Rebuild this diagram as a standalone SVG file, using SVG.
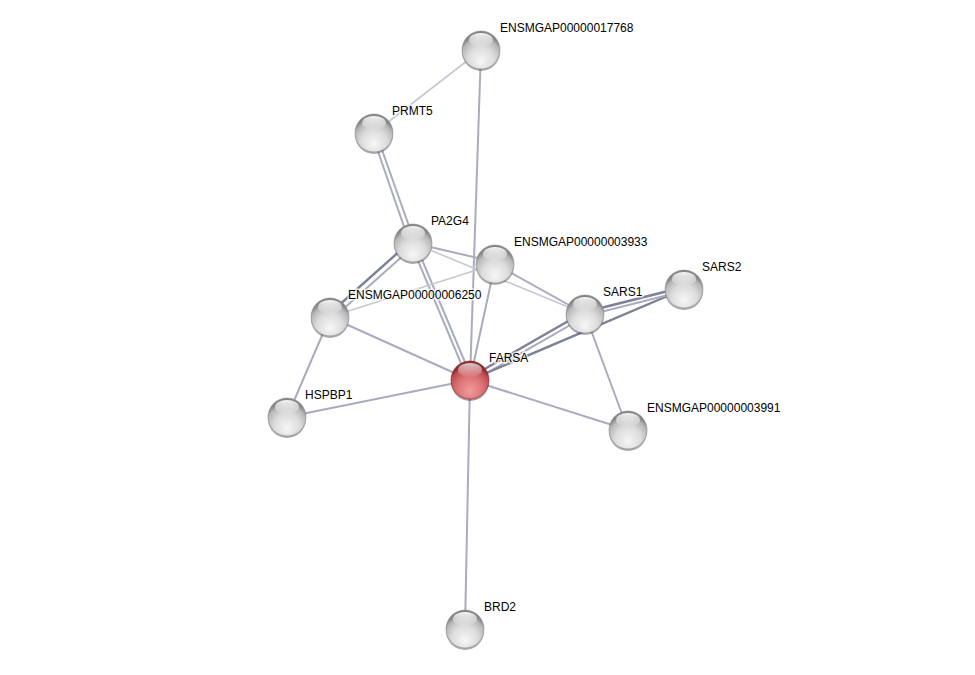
<svg xmlns="http://www.w3.org/2000/svg" width="975" height="675" viewBox="0 0 975 675">
<defs>
<radialGradient id="gw" cx="0.5" cy="0.72" r="0.62" fx="0.5" fy="0.8">
<stop offset="0" stop-color="#f7f7f7"/>
<stop offset="0.55" stop-color="#dcdcdc"/>
<stop offset="0.85" stop-color="#b8b8b8"/>
<stop offset="1" stop-color="#858585"/>
</radialGradient>
<radialGradient id="gr" cx="0.5" cy="0.72" r="0.62" fx="0.5" fy="0.8">
<stop offset="0" stop-color="#f29a9c"/>
<stop offset="0.55" stop-color="#dc7376"/>
<stop offset="0.85" stop-color="#c24e52"/>
<stop offset="1" stop-color="#8c2a2e"/>
</radialGradient>
<linearGradient id="hl" x1="0" y1="0" x2="0" y2="1">
<stop offset="0" stop-color="#ffffff" stop-opacity="0.95"/>
<stop offset="1" stop-color="#ffffff" stop-opacity="0.05"/>
</linearGradient>
<g id="sw">
<ellipse cx="0" cy="2" rx="19" ry="19" fill="#444" opacity="0.45"/>
<circle r="19" fill="url(#gw)" stroke="#8f8f8f" stroke-width="0.6"/>
<ellipse cx="0" cy="-10" rx="12" ry="7" fill="url(#hl)"/>
</g>
<g id="sr">
<ellipse cx="0" cy="2" rx="19" ry="19" fill="#5a1a1c" opacity="0.45"/>
<circle r="19" fill="url(#gr)" stroke="#8c2a2e" stroke-width="0.6"/>
<ellipse cx="0" cy="-10" rx="12" ry="7" fill="url(#hl)" opacity="0.8"/>
</g>
</defs>
<style>
.e{stroke:#a9acbf;stroke-width:2;fill:none}
.el{stroke:#c6c8d3;stroke-width:1.6;fill:none}
.ed{stroke:#7c8099;stroke-width:2.4;fill:none}
.t{font-family:"Liberation Sans",Arial,sans-serif;font-size:12px;fill:#000;stroke:#fff;stroke-width:3;stroke-opacity:0.7;paint-order:stroke}
</style>
<rect width="975" height="675" fill="#fff"/>
<g id="edges">
<line class="el" x1="481" y1="50" x2="374" y2="133"/>
<line class="e" x1="481" y1="50" x2="470" y2="380"/>
<line class="e" x1="372" y1="134" x2="410" y2="244"/>
<line class="e" x1="376" y1="133" x2="415" y2="243"/>
<line class="e" x1="411" y1="244" x2="468" y2="380"/>
<line class="e" x1="415" y1="243" x2="472" y2="379"/>
<line class="ed" x1="411" y1="241" x2="328" y2="315"/>
<line class="e" x1="415" y1="245" x2="332" y2="319"/>
<line class="e" x1="413" y1="243" x2="495" y2="262"/>
<line class="el" x1="413" y1="243" x2="585" y2="314"/>
<line class="el" x1="495" y1="264" x2="330" y2="317"/>
<line class="e" x1="495" y1="264" x2="585" y2="314"/>
<line class="e" x1="495" y1="264" x2="470" y2="380"/>
<line class="e" x1="330" y1="317" x2="470" y2="380"/>
<line class="e" x1="330" y1="317" x2="287" y2="417"/>
<line class="e" x1="287" y1="417" x2="470" y2="380"/>
<line class="ed" x1="469" y1="378" x2="584" y2="312"/>
<line class="e" x1="471" y1="382" x2="586" y2="316"/>
<line class="ed" x1="470" y1="380" x2="684" y2="289"/>
<line class="ed" x1="585" y1="312" x2="684" y2="287"/>
<line class="e" x1="585" y1="316" x2="684" y2="291"/>
<line class="e" x1="585" y1="314" x2="628" y2="430"/>
<line class="e" x1="470" y1="380" x2="628" y2="430"/>
<line class="e" x1="470" y1="380" x2="465" y2="629"/>
</g>
<g id="n17768"><use href="#sw" x="481" y="50"/><text class="t" x="500" y="32">ENSMGAP00000017768</text></g>
<g id="nPRMT5"><use href="#sw" x="374" y="133"/><text class="t" x="392" y="115">PRMT5</text></g>
<g id="nPA2G4"><use href="#sw" x="413" y="243"/><text class="t" x="431" y="225">PA2G4</text></g>
<g id="n3933"><use href="#sw" x="495" y="264"/><text class="t" x="514" y="246">ENSMGAP00000003933</text></g>
<g id="n6250"><use href="#sw" x="330" y="317"/><text class="t" x="348" y="299">ENSMGAP00000006250</text></g>
<g id="nSARS1"><use href="#sw" x="585" y="314"/><text class="t" x="603" y="296">SARS1</text></g>
<g id="nSARS2"><use href="#sw" x="684" y="289"/><text class="t" x="702" y="271">SARS2</text></g>
<g id="nFARSA"><use href="#sr" x="470" y="380"/><text class="t" x="489" y="362">FARSA</text></g>
<g id="nHSPBP1"><use href="#sw" x="287" y="417"/><text class="t" x="305" y="399">HSPBP1</text></g>
<g id="n3991"><use href="#sw" x="628" y="430"/><text class="t" x="647" y="412">ENSMGAP00000003991</text></g>
<g id="nBRD2"><use href="#sw" x="465" y="629"/><text class="t" x="484" y="611">BRD2</text></g>
</svg>
